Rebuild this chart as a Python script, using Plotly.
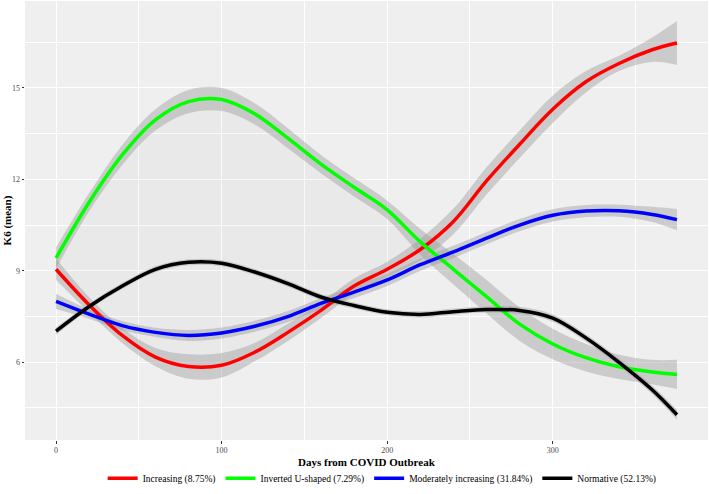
import plotly.graph_objects as go

days = [0, 20, 40, 60, 80, 100, 120, 140, 160, 180, 200, 220, 240, 260, 280, 300, 320, 340, 360, 375]

increasing = [9.05, 7.88, 6.88, 6.17, 5.86, 5.90, 6.33, 6.98, 7.70, 8.50, 9.05, 9.70, 10.62, 11.95, 13.15, 14.30, 15.20, 15.80, 16.25, 16.47]
increasing_hw = [0.35, 0.25, 0.25, 0.30, 0.40, 0.40, 0.30, 0.28, 0.25, 0.25, 0.25, 0.35, 0.42, 0.45, 0.45, 0.45, 0.35, 0.25, 0.40, 0.72]

inverted_u = [9.42, 11.25, 12.80, 13.95, 14.55, 14.62, 14.15, 13.35, 12.50, 11.74, 11.00, 9.95, 9.05, 8.15, 7.25, 6.60, 6.15, 5.85, 5.68, 5.60]
inverted_u_hw = [0.35, 0.30, 0.33, 0.35, 0.38, 0.38, 0.35, 0.33, 0.30, 0.30, 0.30, 0.42, 0.50, 0.55, 0.55, 0.50, 0.45, 0.40, 0.40, 0.48]

moderate = [8.00, 7.58, 7.20, 6.98, 6.88, 6.96, 7.18, 7.50, 7.93, 8.30, 8.70, 9.20, 9.62, 10.07, 10.50, 10.82, 10.96, 10.97, 10.85, 10.68]
moderate_hw = [0.25, 0.15, 0.15, 0.15, 0.18, 0.18, 0.18, 0.18, 0.18, 0.20, 0.20, 0.20, 0.20, 0.20, 0.20, 0.20, 0.20, 0.20, 0.25, 0.35]

normative = [7.02, 7.83, 8.50, 9.05, 9.28, 9.25, 8.96, 8.58, 8.14, 7.86, 7.64, 7.57, 7.66, 7.73, 7.70, 7.45, 6.80, 6.00, 5.10, 4.28]
normative_hw = [0.12, 0.10, 0.10, 0.10, 0.10, 0.10, 0.10, 0.10, 0.10, 0.10, 0.10, 0.10, 0.10, 0.10, 0.12, 0.12, 0.12, 0.12, 0.14, 0.16]

series_names = ["Increasing (8.75%)", "Inverted U-shaped (7.29%)", "Moderately increasing (31.84%)", "Normative (52.13%)"]
series_colors = ["#ff0000", "#00ff00", "#0000ff", "#000000"]
series_values = [increasing, inverted_u, moderate, normative]
series_hw = [increasing_hw, inverted_u_hw, moderate_hw, normative_hw]

x_ticks = [0, 100, 200, 300]
y_ticks = [6, 9, 12, 15]

FONT = "Liberation Serif, Times New Roman, serif"

fig = go.Figure()

# faint shaded lens between inverted-U and increasing curves
n_lens = sum(1 for d in days if d <= 220)
fig.add_trace(go.Scatter(x=days[:n_lens], y=increasing[:n_lens], mode="lines",
                         line=dict(width=0, shape="spline"), showlegend=False, hoverinfo="skip"))
fig.add_trace(go.Scatter(x=days[:n_lens], y=inverted_u[:n_lens], mode="lines",
                         line=dict(width=0, shape="spline"), fill="tonexty",
                         fillcolor="rgba(0,0,0,0.025)", showlegend=False, hoverinfo="skip"))

# confidence ribbons
for vals, hw in zip(series_values, series_hw):
    lo = [v - h for v, h in zip(vals, hw)]
    hi = [v + h for v, h in zip(vals, hw)]
    fig.add_trace(go.Scatter(x=days, y=lo, mode="lines", line=dict(width=0, shape="spline"),
                             showlegend=False, hoverinfo="skip"))
    fig.add_trace(go.Scatter(x=days, y=hi, mode="lines", line=dict(width=0, shape="spline"),
                             fill="tonexty", fillcolor="rgba(153,153,153,0.42)",
                             showlegend=False, hoverinfo="skip"))

# lines
for name, col, vals in zip(series_names, series_colors, series_values):
    fig.add_trace(go.Scatter(x=days, y=vals, mode="lines", name=name,
                             line=dict(color=col, width=3.5, shape="spline")))

fig.update_layout(
    width=709, height=494,
    paper_bgcolor="white",
    plot_bgcolor="#efefef",
    margin=dict(l=25, r=1, t=1, b=54, autoexpand=False),
    font=dict(family=FONT, size=10, color="#4d4d4d"),
    showlegend=True,
    legend=dict(orientation="h", xref="container", yref="container",
                x=0.539, xanchor="center", y=0.032, yanchor="middle",
                font=dict(family=FONT, size=9.5, color="black"),
                itemwidth=30, traceorder="normal", bgcolor="rgba(0,0,0,0)"),
    annotations=[
        dict(text="<b>K6 (mean)</b>", xref="paper", yref="paper", x=-0.025, y=0.5,
             xanchor="center", yanchor="middle", textangle=-90, showarrow=False,
             font=dict(family=FONT, size=11, color="black")),
        dict(text="<b>Days from COVID Outbreak</b>", xref="paper", yref="paper", x=0.5, y=-0.049,
             xanchor="center", yanchor="middle", showarrow=False,
             font=dict(family=FONT, size=11, color="black")),
    ],
)
fig.update_xaxes(range=[-18.75, 393.75], tickvals=x_ticks, ticktext=[str(v) for v in x_ticks],
                 automargin=False,
                 showgrid=True, gridcolor="white", gridwidth=1.1, zeroline=False,
                 ticks="outside", ticklen=2.5, tickcolor="#333333", tickwidth=0.8,
                 tickfont=dict(family=FONT, size=8, color="#4d4d4d"),
                 minor=dict(tickvals=[50, 150, 250, 350], showgrid=True, gridcolor="white", gridwidth=0.5, ticks=""))
fig.update_yaxes(range=[3.45, 17.85], tickvals=y_ticks, ticktext=[str(v) for v in y_ticks],
                 automargin=False,
                 showgrid=True, gridcolor="white", gridwidth=1.1, zeroline=False,
                 ticks="outside", ticklen=2.5, tickcolor="#333333", tickwidth=0.8,
                 tickfont=dict(family=FONT, size=8, color="#4d4d4d"),
                 minor=dict(tickvals=[4.5, 7.5, 10.5, 13.5, 16.5], showgrid=True, gridcolor="white", gridwidth=0.5, ticks=""))

fig.write_html("out.html", config={"displayModeBar": False},
               post_script="document.body.style.margin='0';document.body.style.overflow='hidden';")
